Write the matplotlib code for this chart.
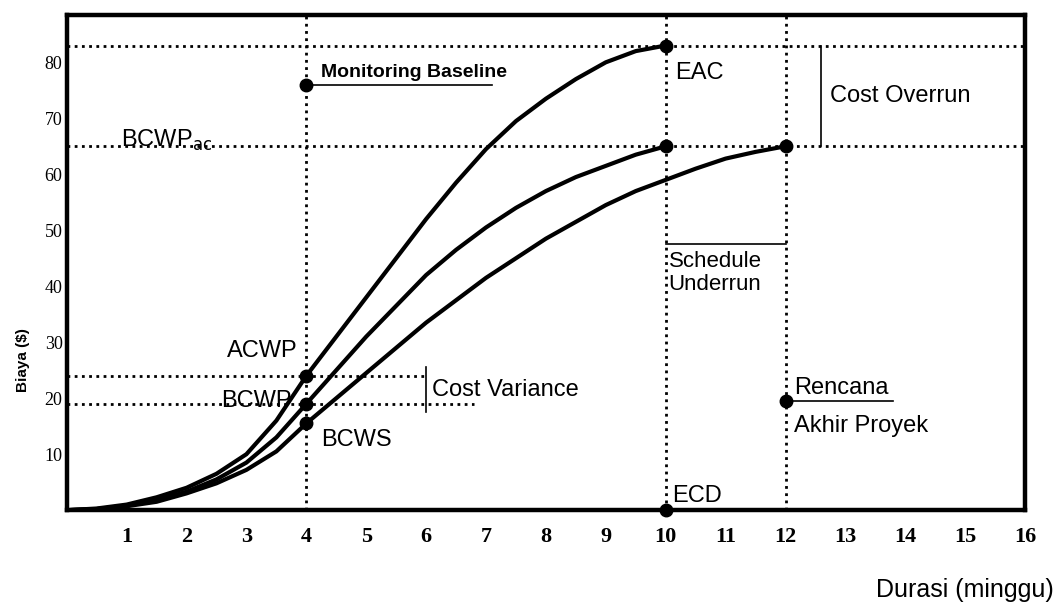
import numpy as np
import matplotlib
matplotlib.use("Agg")
import matplotlib.pyplot as plt

# minggu (setengah minggu) dan kurva S
minggu_acwp = [0, 0.5, 1, 1.5, 2, 2.5, 3, 3.5, 4, 4.5, 5, 5.5, 6, 6.5, 7, 7.5, 8, 8.5, 9, 9.5, 10]
acwp = [0, 0.3, 1, 2.3, 4, 6.5, 10, 16, 24, 31, 38, 45, 52, 58.5, 64.5, 69.5, 73.5, 77, 80, 82, 83]

minggu_bcwp = [0, 0.5, 1, 1.5, 2, 2.5, 3, 3.5, 4, 4.5, 5, 5.5, 6, 6.5, 7, 7.5, 8, 8.5, 9, 9.5, 10]
bcwp = [0, 0.2, 0.8, 1.8, 3.3, 5.5, 8.5, 13, 19, 25, 31, 36.5, 42, 46.5, 50.5, 54, 57, 59.5, 61.5, 63.5, 65]

minggu_bcws = [0, 0.5, 1, 1.5, 2, 2.5, 3, 3.5, 4, 4.5, 5, 5.5, 6, 6.5, 7, 7.5, 8, 8.5, 9, 9.5,
               10, 10.5, 11, 11.5, 12]
bcws = [0, 0.2, 0.7, 1.5, 3, 4.8, 7.2, 10.5, 15.5, 20, 24.5, 29, 33.5, 37.5, 41.5, 45, 48.5, 51.5,
        54.5, 57, 59, 61, 62.8, 64, 65]

# nilai-nilai penting
minggu_monitor = 4
minggu_ecd = 10
minggu_rencana = 12
nilai_eac = 83
nilai_bac = 65
nilai_acwp = 24
nilai_bcwp = 19
nilai_bcws = 15.5
nilai_baseline = 76
nilai_rencana = 19.5
nilai_schedule = 47.5

xticks = list(range(1, 17))
yticks = [10, 20, 30, 40, 50, 60, 70, 80]

fig = plt.figure(figsize=(10.59, 6.11), dpi=100)
ax = fig.add_axes([0.063, 0.165, 0.905, 0.81])
ax.set_xlim(0, 16)
ax.set_ylim(0, 88.4)

for s in ax.spines.values():
    s.set_linewidth(3.2)

dot = (0, (1, 1.6))
lwd = 2.0
# garis putus-putus
ax.axhline(nilai_eac, color='k', ls=dot, lw=lwd)
ax.axhline(nilai_bac, color='k', ls=dot, lw=lwd)
for xv in [minggu_monitor, minggu_ecd, minggu_rencana]:
    ax.axvline(xv, color='k', ls=dot, lw=lwd)
ax.plot([0, 6], [nilai_acwp, nilai_acwp], color='k', ls=dot, lw=lwd)
ax.plot([0, 6.8], [nilai_bcwp, nilai_bcwp], color='k', ls=dot, lw=lwd)

# kurva
for xs, ys in [(minggu_acwp, acwp), (minggu_bcwp, bcwp), (minggu_bcws, bcws)]:
    ax.plot(xs, ys, color='k', lw=3, solid_capstyle='round', solid_joinstyle='round')

# titik
px = [minggu_monitor, minggu_monitor, minggu_monitor, minggu_monitor,
      minggu_ecd, minggu_ecd, minggu_ecd, minggu_rencana, minggu_rencana]
py = [nilai_baseline, nilai_acwp, nilai_bcwp, nilai_bcws,
      nilai_eac, nilai_bac, 0, nilai_bac, nilai_rencana]
ax.plot(px, py, 'o', color='k', ms=9, clip_on=False, zorder=5)

# kurung biaya
ax.plot([6, 6], [nilai_bcwp - 1.5, nilai_acwp + 1.5], color='k', lw=1.2)
ax.plot([12.6, 12.6], [nilai_bac, nilai_eac], color='k', lw=1.2)
ax.plot([minggu_ecd, minggu_rencana], [nilai_schedule, nilai_schedule], color='k', lw=1.2)
ax.plot([minggu_monitor, 7.1], [nilai_baseline, nilai_baseline], color='k', lw=1.2)
ax.plot([minggu_rencana, 13.8], [nilai_rencana, nilai_rencana], color='k', lw=1.2)

f = 'Liberation Sans'
fs = 17
ax.text(4.25, nilai_baseline + 0.6, 'Monitoring Baseline', family=f, fontsize=14,
        fontweight='bold', va='bottom')
ax.text(10.15, 78, 'EAC', family=f, fontsize=fs, va='center')
ax.text(12.75, 74, 'Cost Overrun', family=f, fontsize=fs, va='center')
ax.text(0.9, nilai_bac + 1, r'BCWP$_{\rm ac}$', family=f, fontsize=fs, va='center')
ax.text(10.05, 46.3, 'Schedule\nUnderrun', family=f, fontsize=16, va='top', linespacing=1.1)
ax.text(3.85, 26.5, 'ACWP', family=f, fontsize=fs, ha='right', va='bottom')
ax.text(3.75, 19.5, 'BCWP', family=f, fontsize=fs, ha='right', va='center')
ax.text(4.25, 12.5, 'BCWS', family=f, fontsize=fs, va='center')
ax.text(6.1, 21.5, 'Cost Variance', family=f, fontsize=fs, va='center')
ax.text(12.15, nilai_rencana + 0.4, 'Rencana', family=f, fontsize=fs, va='bottom')
ax.text(12.15, 15, 'Akhir Proyek', family=f, fontsize=fs, va='center')
ax.text(10.1, 0.5, 'ECD', family=f, fontsize=fs, va='bottom')

ax.set_xticks(xticks)
ax.set_xticklabels([str(t) for t in xticks], family='Liberation Serif',
                   fontsize=16, fontweight='bold')
ax.set_yticks(yticks)
ax.set_yticklabels([str(t) for t in yticks], family='Liberation Serif', fontsize=13)
ax.tick_params(axis='x', length=0, pad=12)
ax.tick_params(axis='y', length=0, pad=3)

fig.text(0.995, 0.035, 'Durasi (minggu)', family=f, fontsize=18, ha='right', va='center')
fig.text(0.022, 0.41, 'Biaya ($)', family=f, fontsize=11, fontweight='bold',
         rotation=90, ha='center', va='center')

fig.savefig('out.png', dpi=100)
